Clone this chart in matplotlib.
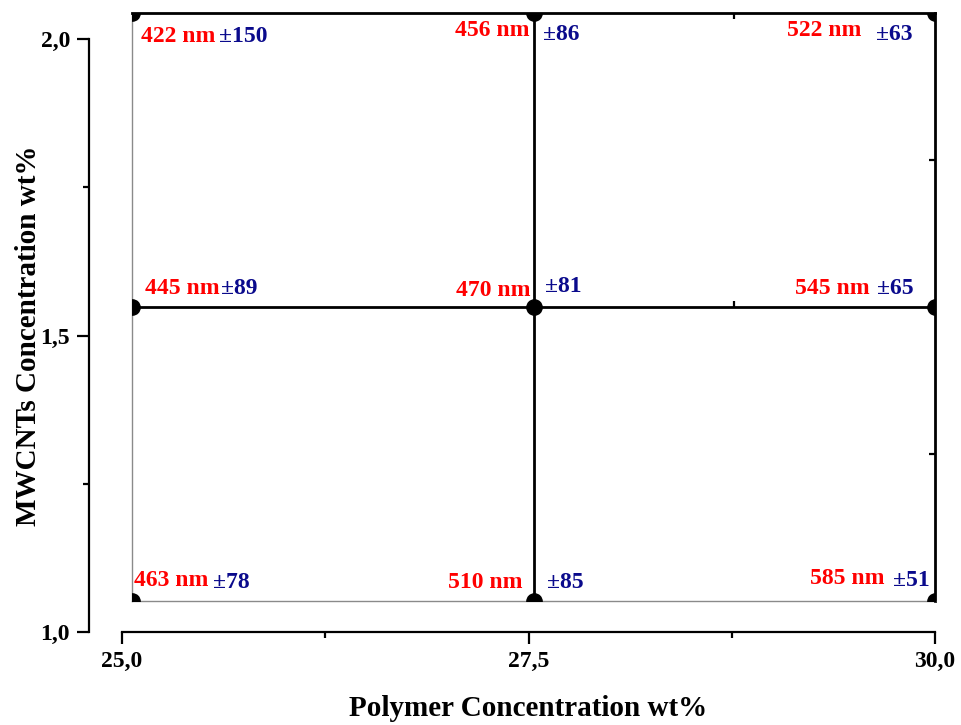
import matplotlib
matplotlib.use("Agg")
import matplotlib.pyplot as plt
from matplotlib import ticker

plt.rcParams['font.family'] = ['Liberation Serif', 'DejaVu Serif']
plt.rcParams['font.weight'] = 'bold'

# design grid
polymer = [25.0, 27.5, 30.0]
mwcnt = [1.0, 1.5, 2.0]
# fibre diameter (nm) and std, rows follow mwcnt, columns follow polymer
diameter = [[463, 510, 585],
            [445, 470, 545],
            [422, 456, 522]]
spread = [[78, 85, 51],
          [89, 81, 65],
          [150, 86, 63]]

# label offsets in pixels from each point: (red dx, red dy, blue dx, blue dy)
offsets = [[(2, 21, 81, 19), (-86, 19, 13, 19), (-125, 22, -42, 21)],
           [(13, 18, 89, 19), (-78, 16, 11, 20), (-140, 18, -58, 18)],
           [(9, -24, 87, -23), (-79, -17, 9, -21), (-148, -18, -59, -21)]]

RED = '#ff0000'
NAVY = '#0a0a8c'
W, H = 961, 725

fig = plt.figure(figsize=(W / 100, H / 100), dpi=100)


def px_box(x0, y0, x1, y1):
    return [x0 / W, 1 - y1 / H, (x1 - x0) / W, (y1 - y0) / H]


# outer layer: the axes with scales
ax = fig.add_axes(px_box(122, 39, 935, 632))
ax.set_xlim(25, 30)
ax.set_ylim(1, 2)
ax.spines['top'].set_visible(False)
ax.spines['right'].set_visible(False)
ax.spines['left'].set_position(('outward', 24))
for s in ('left', 'bottom'):
    ax.spines[s].set_linewidth(1.6)
ax.xaxis.set_major_locator(ticker.FixedLocator([25, 27.5, 30]))
ax.xaxis.set_minor_locator(ticker.FixedLocator([26.25, 28.75]))
ax.yaxis.set_major_locator(ticker.FixedLocator([1.0, 1.5, 2.0]))
ax.yaxis.set_minor_locator(ticker.FixedLocator([1.25, 1.75]))
fmt = ticker.FuncFormatter(lambda v, p: f"{v:.1f}".replace('.', ','))
ax.xaxis.set_major_formatter(fmt)
ax.yaxis.set_major_formatter(fmt)
ax.tick_params(which='major', length=8.5, width=1.6, labelsize=17, pad=5)
ax.tick_params(which='minor', length=4.5, width=1.6)
ax.set_xlabel('Polymer Concentration wt%', fontsize=21, fontweight='bold', labelpad=17)
ax.set_ylabel('MWCNTs Concentration wt%', fontsize=21, fontweight='bold', labelpad=-1.5)

# inner layer: the sample grid
ax2 = fig.add_axes(px_box(132, 13, 935, 601))
ax2.set_facecolor('none')
ax2.set_xlim(25, 30)
ax2.set_ylim(1, 2)
ax2.spines['left'].set_color('#8a8a8a')
ax2.spines['bottom'].set_color('#8a8a8a')
ax2.spines['left'].set_linewidth(1.0)
ax2.spines['bottom'].set_linewidth(1.0)
ax2.spines['top'].set_linewidth(2.0)
ax2.spines['right'].set_linewidth(2.0)
ax2.xaxis.set_major_locator(ticker.NullLocator())
ax2.yaxis.set_major_locator(ticker.NullLocator())
ax2.xaxis.set_minor_locator(ticker.FixedLocator([28.75]))
ax2.yaxis.set_minor_locator(ticker.FixedLocator([1.25, 1.75]))
ax2.tick_params(which='minor', direction='in', length=4.5, width=1.6,
                top=True, right=True, bottom=False, left=False)

ax2.plot([polymer[0], polymer[-1]], [mwcnt[1], mwcnt[1]], color='black', lw=2)
ax2.plot([polymer[1], polymer[1]], [mwcnt[0], mwcnt[-1]], color='black', lw=2)

mid = ax2.secondary_xaxis(0.5)
mid.spines['top'].set_visible(False)
mid.spines['bottom'].set_visible(False)
mid.set_xticks([28.75])
mid.tick_params(length=4.5, width=1.6, labeltop=False, labelbottom=False)

for j, yv in enumerate(mwcnt):
    for i, xv in enumerate(polymer):
        ax2.plot(xv, yv, 'o', color='black', ms=11, zorder=4)
        rdx, rdy, bdx, bdy = offsets[j][i]
        ax2.annotate(f"{diameter[j][i]} nm", (xv, yv), xytext=(rdx, rdy),
                     textcoords='offset pixels', color=RED, fontsize=17,
                     fontweight='bold', ha='left', va='center',
                     annotation_clip=False)
        ax2.annotate(f"±{spread[j][i]}", (xv, yv), xytext=(bdx, bdy),
                     textcoords='offset pixels', color=NAVY, fontsize=17,
                     fontweight='bold', ha='left', va='center',
                     annotation_clip=False)

fig.savefig('out.png', dpi=100)
